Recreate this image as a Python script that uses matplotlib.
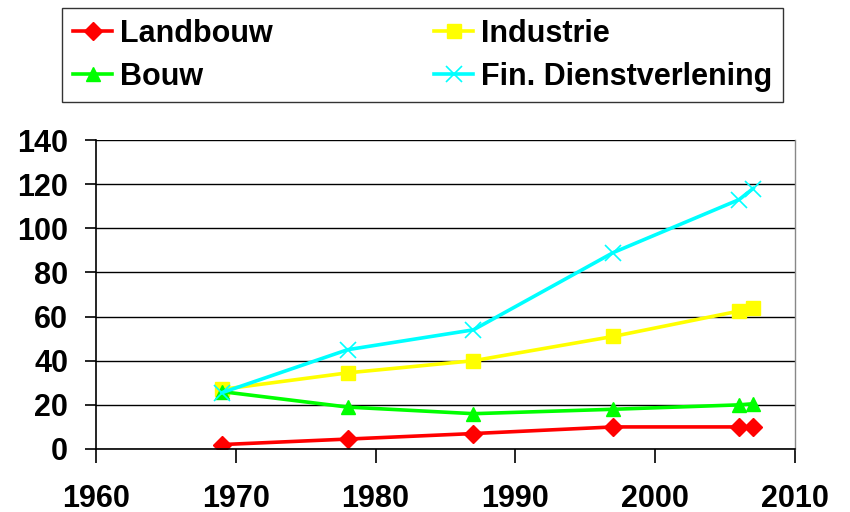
import matplotlib.pyplot as plt

plt.rcParams['font.family'] = ['Liberation Sans', 'DejaVu Sans']
plt.rcParams['font.weight'] = 'bold'

# data
jaren = [1969, 1978, 1987, 1997, 2006, 2007]
landbouw = [2, 4.5, 7, 10, 10, 10]
industrie = [27, 34.5, 40, 51, 62.5, 64]
bouw = [26, 19, 16, 18, 20, 20.5]
fin_dienst = [25.5, 45, 54, 89, 113, 118]

fig = plt.figure(figsize=(8.5, 5.12), dpi=100)
ax = fig.add_axes([96 / 850, 63 / 512, 699 / 850, 309 / 512])

lw = 2.6
l1, = ax.plot(jaren, landbouw, color='#ff0000', lw=lw, marker='D', ms=9, label='Landbouw')
l2, = ax.plot(jaren, industrie, color='#ffff00', lw=lw, marker='s', ms=10, label='Industrie')
l3, = ax.plot(jaren, bouw, color='#00ff00', lw=lw, marker='^', ms=10, label='Bouw')
l4, = ax.plot(jaren, fin_dienst, color='#00ffff', lw=lw, marker='x', ms=11, mew=1.2,
              label='Fin. Dienstverlening')

ax.set_xlim(1960, 2010)
ax.set_ylim(0, 140)
ax.set_xticks(range(1960, 2011, 10))
ax.set_yticks(range(0, 141, 20))
ax.grid(axis='y', color='black', lw=1)
ax.set_axisbelow(True)

for s in ['top', 'right']:
    ax.spines[s].set_visible(False)
ax.spines['left'].set_linewidth(1.2)
ax.spines['bottom'].set_linewidth(1.2)
ax.plot([1, 1], [0, 1], transform=ax.transAxes, color='#888888', lw=1, clip_on=False)

ax.tick_params(axis='y', direction='out', length=8, width=1.2, pad=12, labelsize=22)
ax.tick_params(axis='x', direction='out', length=10, width=1.2, pad=15, labelsize=22)

# column-wise fill: Landbouw/Bouw left, Industrie/Fin right
leg = fig.legend(handles=[l1, l3, l2, l4], ncol=2, loc='upper left',
                 bbox_to_anchor=(62 / 850, 504 / 512, 721 / 850, 0),
                 mode='expand', fontsize=22, frameon=True, fancybox=False,
                 edgecolor='black', handlelength=1.3, handletextpad=0.25,
                 borderaxespad=0, borderpad=0.35, labelspacing=0.42)
leg.get_frame().set_linewidth(1.0)

fig.savefig('out.png', dpi=100)
